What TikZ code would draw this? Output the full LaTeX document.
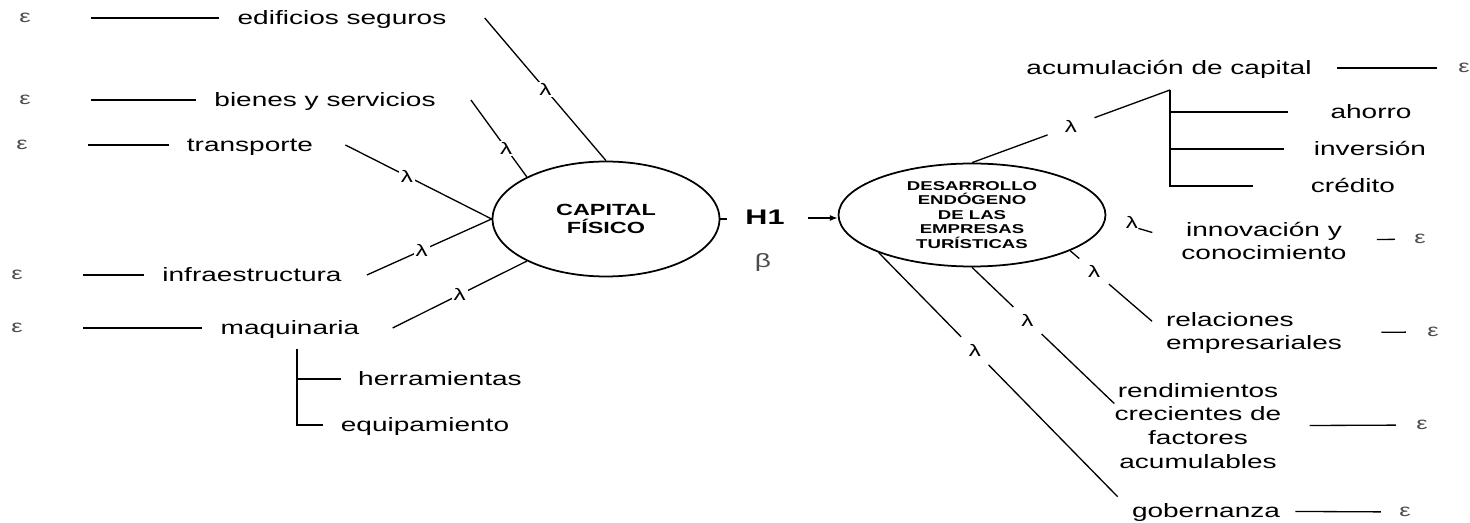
\documentclass[tikz,border=0pt]{standalone}
\usepackage{fontspec}
\setmainfont{Liberation Sans}[FakeStretch=1.45]
\usetikzlibrary{shapes.geometric,arrows.meta}

\begin{document}
\begin{tikzpicture}[x=0.02cm, y=-0.02cm,
    latent/.style ={ellipse, draw, line width=1pt, inner sep=0pt, align=center},
    item/.style ={inner sep=0pt, text height=1.5ex, text depth=0pt, font=\fontsize{11}{13.6}\selectfont},
    items/.style ={inner sep=0pt, align=center, font=\fontsize{11}{13.6}\selectfont},
    err/.style ={inner sep=0pt, text=black!70, font=\fontsize{10}{11}\selectfont},
    lam/.style ={fill=white, inner sep=1pt, font=\fontsize{9.5}{10}\selectfont},
    lamgap/.style ={circle, fill=white, inner sep=0pt, minimum size=0.78cm, font=\fontsize{9.5}{10}\selectfont},
    link/.style ={line width=0.75pt},
    errline/.style ={link, shorten <=1.2cm, shorten >=0.36cm}]
   \useasboundingbox (0,0) rectangle (1470,523);

   \node[err] (E1) at (25,18) {ε};
   \node[item] (ES) at (342,18) {edificios seguros};
   \node[err] (E2) at (25,100) {ε};
   \node[item] (BS) at (325,100) {bienes y servicios};
   \node[err] (E3) at (22,145) {ε};
   \node[item] (TR) at (250,145) {transporte};
   \node[err] (E4) at (17,275) {ε};
   \node[item] (IN) at (252,275) {infraestructura};
   \node[err] (E5) at (17,328) {ε};
   \node[item] (MA) at (290,328) {maquinaria};
   \node[item] (HE) at (440,379) {herramientas};
   \node[item] (EQ) at (425,425) {equipamiento};
   \coordinate (MR) at (297,349);

   \node[latent, minimum width=4.54cm, minimum height=2.3cm,
     font=\bfseries\fontsize{9.2}{10.2}\selectfont] (CF) at (606,219) {CAPITAL\\FÍSICO};
   \node[item, font=\bfseries\fontsize{12}{13}\selectfont] (H1) at (765,218) {H1};
   \node[err, font=\fontsize{11}{12}\selectfont] (BT) at (763,263) {β};
   \node[latent, minimum width=5.34cm, minimum height=2.06cm,
     font=\bfseries\fontsize{7.3}{8.25}\selectfont] (DE) at (972,215)
     {DESARROLLO\\ENDÓGENO\\DE LAS\\EMPRESAS\\TURÍSTICAS};

   \node[item] (AC) at (1169,68) {acumulación de capital};
   \node[err] (E6) at (1464,68) {ε};
   \coordinate (AJ) at (1170,90);
   \node[item] (AH) at (1371,112) {ahorro};
   \node[item] (IV) at (1370,149) {inversión};
   \node[item] (CR) at (1353,186) {crédito};
   \node[inner sep=0pt, font=\fontsize{9.5}{10}\selectfont] (LI) at (1132,222) {λ};
   \node[items] (IC) at (1264,241) {innovación y\\conocimiento};
   \node[err] (E7) at (1420,239) {ε};
   \node[items, align=left] (RE) at (1254,333) {relaciones\\empresariales};
   \node[err] (E8) at (1433,332) {ε};
   \node[items] (RC) at (1198,426) {rendimientos\\crecientes de\\factores\\acumulables};
   \node[err] (E9) at (1422,425) {ε};
   \node[item] (GO) at (1206,511) {gobernanza};
   \node[err] (E10) at (1405,512) {ε};

   \draw[errline] (E1) to (ES);
   \draw[errline] (E2) to (BS);
   \draw[errline] (E3) to (TR);
   \draw[errline] (E4) to (IN);
   \draw[errline] (E5) to (MA);
   \draw[link] ([xshift=0.76cm]ES.east) to node[lam]{λ} (CF.north);
   \draw[link] ([xshift=0.7cm]BS.east) to node[lam, pos=0.63]{λ} (CF.152);
   \draw[link] ([xshift=0.64cm]TR.east) to node[lam, pos=0.42]{λ} (CF.west);
   \draw[link] ([xshift=0.5cm]IN.east) to node[lam, pos=0.44]{λ} (CF.west);
   \draw[link] ([xshift=0.66cm]MA.east) to node[lam]{λ} (CF.208);
   \draw[link, shorten >=0.34cm] (MR) |- (HE);
   \draw[link, shorten >=0.36cm] (MR) |- (EQ);

   \draw[link, shorten >=0.36cm] (CF.east) to (CF.east -| H1.west);
   \draw[link, shorten <=0.46cm, -{Latex[length=4.5pt,width=3.5pt]}] (H1) to (H1 -| DE.west);

   \draw[link, shorten <=0.5cm, shorten >=0.42cm] (AC) to (E6);
   \draw[link] (DE.north) to node[lamgap, minimum size=1cm]{λ} (AJ);
   \draw[link, shorten >=0.84cm] (AJ) |- (AH);
   \draw[link, shorten >=0.6cm] (AJ) |- (IV);
   \draw[link, shorten >=1.16cm] (AJ) |- (CR);
   \draw[link, shorten >=0.6cm] (LI.south east) to (IC.west);
   \draw[link, shorten <=0.6cm, shorten >=0.38cm] (IC) to (E7);
   \draw[link, shorten >=0.36cm] (DE.340) to node[lamgap, pos=0.25]{λ} (RE.west);
   \draw[link, shorten <=0.78cm, shorten >=0.42cm] (RE) to (E8);
   \draw[link] (DE.south) to node[lamgap, pos=0.39]{λ} (RC.165);
   \draw[link, shorten <=0.56cm, shorten >=0.4cm] (RC) to (E9);
   \draw[link, shorten >=0.4cm] (DE.202) to node[lamgap, pos=0.38]{λ} (GO.west);
   \draw[link, shorten <=0.3cm, shorten >=0.36cm] (GO) to (E10);
 \end{tikzpicture}
\end{document}
